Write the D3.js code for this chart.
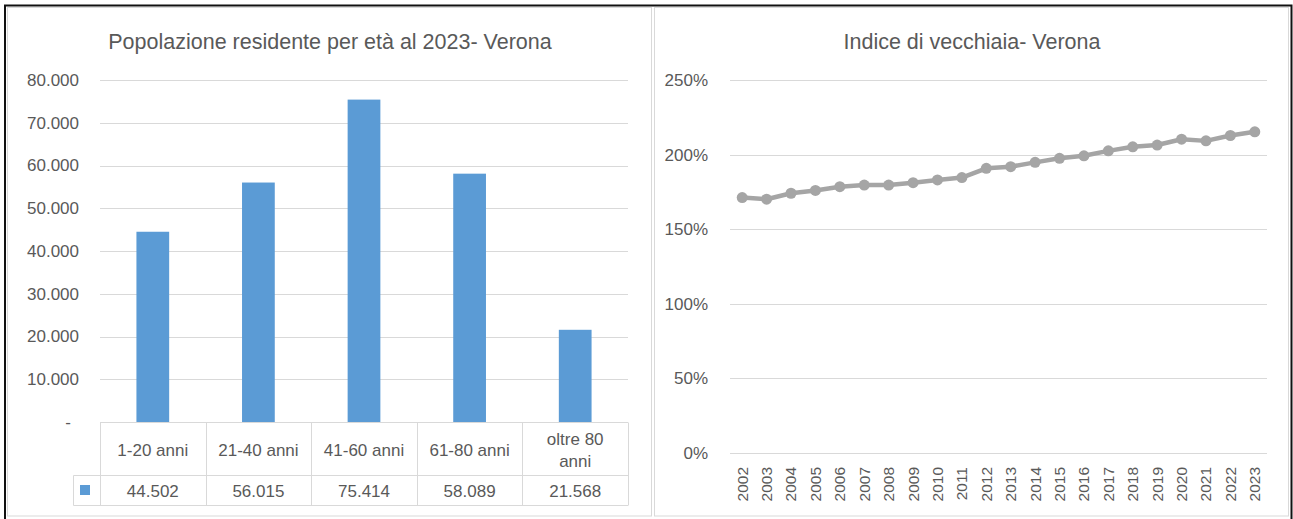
<!DOCTYPE html>
<html>
<head>
<meta charset="utf-8">
<script src="https://cdn.jsdelivr.net/npm/d3@7"></script>
<style>
  html, body { margin: 0; padding: 0; background: #fff; }
  svg { display: block; font-family: "Liberation Sans", Arial, sans-serif; }
</style>
</head>
<body>
<svg id="chart" width="1293" height="519"></svg>
<script>
// data
const ageGroups = ["1-20 anni", "21-40 anni", "41-60 anni", "61-80 anni", "oltre 80 anni"];
const residents = [44502, 56015, 75414, 58089, 21568];
const popTicks = [0, 10000, 20000, 30000, 40000, 50000, 60000, 70000, 80000];

const years = ["2002", "2003", "2004", "2005", "2006", "2007", "2008", "2009", "2010", "2011", "2012",
  "2013", "2014", "2015", "2016", "2017", "2018", "2019", "2020", "2021", "2022", "2023"];
const oldAgeIndex = [171.2, 170.1, 174.1, 176.0, 178.5, 179.6, 179.6, 181.2, 183.0, 184.6, 190.8,
  191.9, 194.8, 197.5, 199.2, 202.5, 205.2, 206.4, 210.3, 209.2, 212.8, 215.3];
const pctTicks = [0, 50, 100, 150, 200, 250];

const textCol = "#595959";
const gridCol = "#d9d9d9";
const barCol = "#5b9bd5";
const lineCol = "#a5a5a5";

const itLocale = d3.formatLocale({ decimal: ",", thousands: ".", grouping: [3], currency: ["€", ""] });
const fmtNum = itLocale.format(",.0f");

const svg = d3.select("#chart");
svg.append("rect").attr("width", 1293).attr("height", 519).attr("fill", "#fff");

// panel frames
svg.append("rect").attr("x", 7.5).attr("y", 7.5).attr("width", 644).attr("height", 508.5)
  .attr("fill", "none").attr("stroke", gridCol);
svg.append("rect").attr("x", 654.5).attr("y", 7.5).attr("width", 634).attr("height", 508.5)
  .attr("fill", "none").attr("stroke", gridCol);
// outer dark frame
svg.append("path").attr("d", "M5,519 V5.5 H1291.5 V519")
  .attr("fill", "none").attr("stroke", "#111").attr("stroke-width", 2);

// ---------- left: bar chart with data table ----------
const left = svg.append("g");
left.append("text").attr("x", 330).attr("y", 48.5).attr("text-anchor", "middle")
  .style("font-size", "21.5px").attr("fill", textCol)
  .text("Popolazione residente per età al 2023- Verona");

const x1 = d3.scaleBand().domain(ageGroups).range([100, 628]);
const y1 = d3.scaleLinear().domain([0, 80000]).range([422, 80]);

left.append("g")
  .selectAll("line").data(popTicks.filter(d => d > 0)).join("line")
  .attr("x1", 100).attr("x2", 628)
  .attr("y1", d => Math.round(y1(d)) + 0.5).attr("y2", d => Math.round(y1(d)) + 0.5)
  .attr("stroke", gridCol);

const yAx1 = left.append("g").attr("transform", "translate(79,0)")
  .call(d3.axisLeft(y1).tickValues(popTicks).tickSize(0)
    .tickFormat(d => d === 0 ? "-" : fmtNum(d)));
yAx1.select(".domain").remove();
yAx1.selectAll("text").attr("fill", textCol).style("font-size", "17px")
  .style("font-family", "'Liberation Sans', Arial, sans-serif")
  .attr("x", d => d === 0 ? -8 : 0);

const bw = x1.bandwidth() * 0.31;
left.append("g").selectAll("rect").data(residents).join("rect")
  .attr("x", (d, i) => x1(ageGroups[i]) + (x1.bandwidth() - bw) / 2)
  .attr("width", bw)
  .attr("y", d => y1(d))
  .attr("height", d => y1(0) - y1(d))
  .attr("fill", barCol);

// data table
const tTop = 422.5, tMid = 475.5, tBot = 505.5, tLeft = 73.5;
const tbl = left.append("g").attr("stroke", gridCol).attr("fill", "none");
tbl.append("line").attr("x1", 100).attr("x2", 628).attr("y1", tTop).attr("y2", tTop);
tbl.append("line").attr("x1", tLeft).attr("x2", 628).attr("y1", tMid).attr("y2", tMid);
tbl.append("line").attr("x1", tLeft).attr("x2", 628).attr("y1", tBot).attr("y2", tBot);
tbl.append("line").attr("x1", tLeft).attr("x2", tLeft).attr("y1", tMid).attr("y2", tBot);
tbl.selectAll(".v").data(ageGroups.map(g => x1(g)).concat([628])).join("line")
  .attr("x1", d => Math.round(d) + 0.5).attr("x2", d => Math.round(d) + 0.5)
  .attr("y1", tTop).attr("y2", tBot);

left.append("rect").attr("x", 80).attr("y", 485).attr("width", 10).attr("height", 10).attr("fill", barCol);

const head = left.append("g").selectAll("text").data(ageGroups).join("text")
  .attr("text-anchor", "middle").attr("fill", textCol).style("font-size", "17px")
  .attr("x", d => x1(d) + x1.bandwidth() / 2);
head.each(function (d) {
  const t = d3.select(this);
  const words = d.split(" ");
  // wrap when the label does not fit the cell
  t.text(d);
  if (this.getComputedTextLength() > x1.bandwidth() - 20) {
    t.text(null);
    t.append("tspan").attr("x", x1(d) + x1.bandwidth() / 2).attr("y", 445).text(words.slice(0, -1).join(" "));
    t.append("tspan").attr("x", x1(d) + x1.bandwidth() / 2).attr("y", 467).text(words[words.length - 1]);
  } else {
    t.attr("y", 456);
  }
});

left.append("g").selectAll("text").data(residents).join("text")
  .attr("text-anchor", "middle").attr("fill", textCol).style("font-size", "17px")
  .attr("x", (d, i) => x1(ageGroups[i]) + x1.bandwidth() / 2)
  .attr("y", 496.5)
  .text(d => fmtNum(d));

// ---------- right: line chart ----------
const right = svg.append("g");
right.append("text").attr("x", 972).attr("y", 48.5).attr("text-anchor", "middle")
  .style("font-size", "21.5px").attr("fill", textCol)
  .text("Indice di vecchiaia- Verona");

const x2 = d3.scaleBand().domain(years).range([730, 1267]);
const y2 = d3.scaleLinear().domain([0, 250]).range([453, 80]);

right.append("g")
  .selectAll("line").data(pctTicks).join("line")
  .attr("x1", 730).attr("x2", 1267)
  .attr("y1", d => Math.round(y2(d)) + 0.5).attr("y2", d => Math.round(y2(d)) + 0.5)
  .attr("stroke", gridCol);

const yAx2 = right.append("g").attr("transform", "translate(711,0)")
  .call(d3.axisLeft(y2).tickValues(pctTicks).tickSize(0).tickFormat(d => d + "%"));
yAx2.select(".domain").remove();
yAx2.selectAll("text").attr("fill", textCol).style("font-size", "17px")
  .style("font-family", "'Liberation Sans', Arial, sans-serif");

const xAx2 = right.append("g").attr("transform", "translate(0,453)")
  .call(d3.axisBottom(x2).tickSize(0));
xAx2.select(".domain").remove();
xAx2.selectAll("text").attr("fill", textCol).style("font-size", "15.5px")
  .style("font-family", "'Liberation Sans', Arial, sans-serif")
  .attr("transform", "rotate(-90)")
  .attr("text-anchor", "end").attr("x", -14).attr("y", 0).attr("dy", "0.35em");

const cx = d => x2(d) + x2.bandwidth() / 2;
right.append("path").datum(oldAgeIndex)
  .attr("d", d3.line().x((d, i) => cx(years[i])).y(d => y2(d)))
  .attr("fill", "none").attr("stroke", lineCol).attr("stroke-width", 4.5).attr("stroke-linejoin", "round");
right.append("g").selectAll("circle").data(oldAgeIndex).join("circle")
  .attr("cx", (d, i) => cx(years[i])).attr("cy", d => y2(d)).attr("r", 5.5)
  .attr("fill", lineCol);
</script>
</body>
</html>
